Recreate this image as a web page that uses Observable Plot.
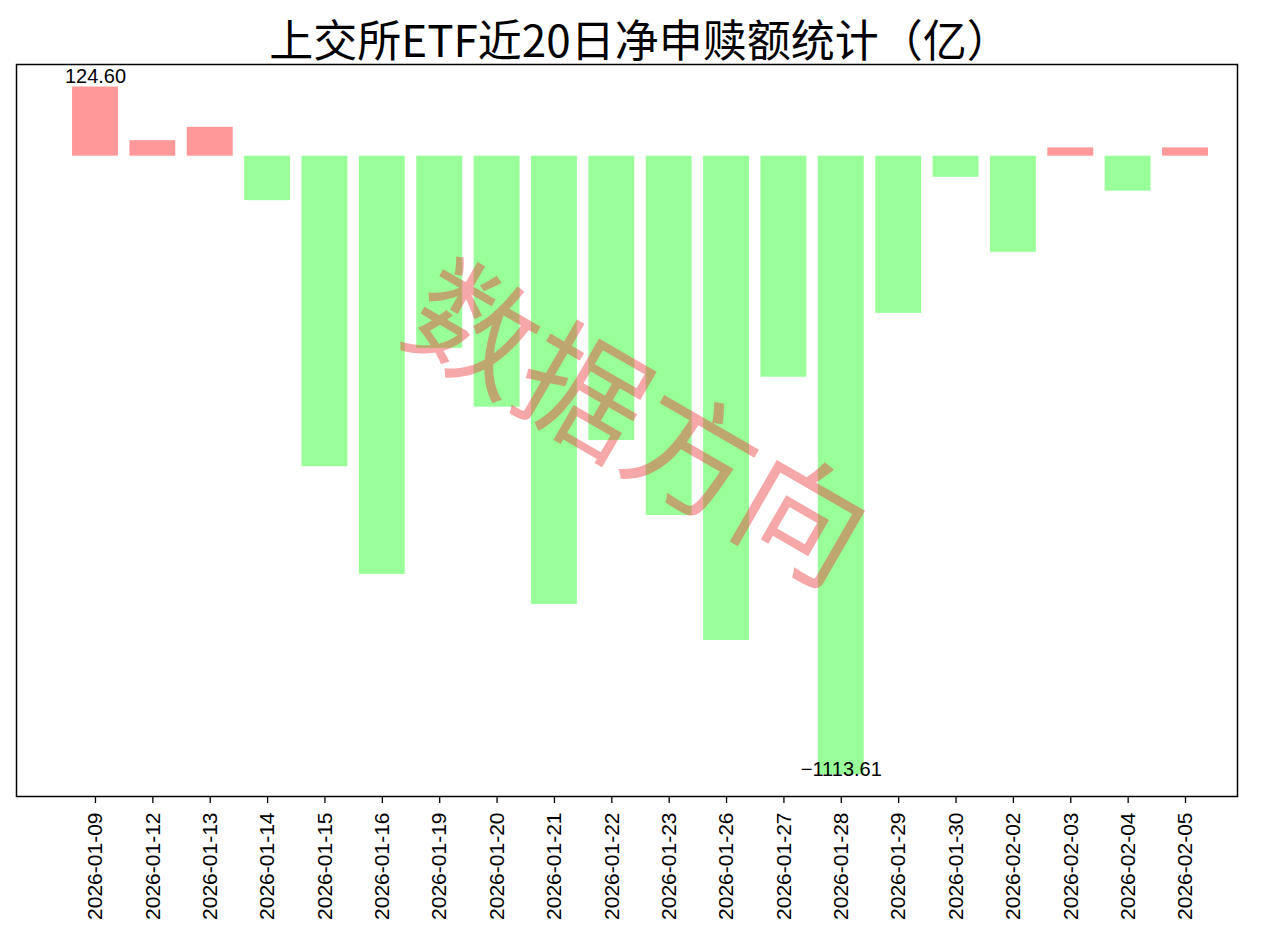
<!DOCTYPE html>
<html>
<head>
<meta charset="utf-8">
<script src="https://cdn.jsdelivr.net/npm/d3@7"></script>
<script src="https://cdn.jsdelivr.net/npm/@observablehq/plot@0.6"></script>
<style>
  html, body { margin: 0; padding: 0; background: #fff; color: #000; }
  #title {
    height: 63px; box-sizing: border-box; padding-top: 12px; padding-right: 0px;
    line-height: 52px; text-align: center; font-size: 44px;
    font-family: "Noto Sans CJK SC", sans-serif; white-space: nowrap; overflow: visible;
  }
  #chart svg { display: block; }
</style>
</head>
<body>
<div id="title">上交所ETF近20日净申赎额统计（亿）</div>
<div id="chart"></div>
<script>
const titleText = "上交所ETF近20日净申赎额统计（亿）";
const dates = [
  "2026-01-09","2026-01-12","2026-01-13","2026-01-14","2026-01-15",
  "2026-01-16","2026-01-19","2026-01-20","2026-01-21","2026-01-22",
  "2026-01-23","2026-01-26","2026-01-27","2026-01-28","2026-01-29",
  "2026-01-30","2026-02-02","2026-02-03","2026-02-04","2026-02-05"
];
const values = [
  124.60, 28, 52, -80, -559,
  -753, -346, -452, -807, -512,
  -647, -872, -398, -1113.61, -283,
  -38, -173, 15, -63, 15
];
const watermark = ["数据方向"];
const posColor = "#ff9999";
const negColor = "#99ff99";

document.getElementById("title").textContent = titleText;

const data = dates.map((d, i) => ({date: d, value: values[i]}));
const maxD = data.reduce((a, b) => (b.value > a.value ? b : a));
const minD = data.reduce((a, b) => (b.value < a.value ? b : a));
const fmt = d3.format(".2f");

const chart = Plot.plot({
  width: 1280,
  height: 876,
  marginTop: 1,
  marginBottom: 143,
  marginLeft: 16,
  marginRight: 43,
  style: {fontFamily: "Liberation Sans, Arial, sans-serif", background: "white", color: "black"},
  x: {type: "band", domain: dates, range: [66.3, 1213.7], paddingInner: 0.2, paddingOuter: 0.1, round: false, label: null},
  y: {domain: [-1152.9, 165.1], axis: null},
  color: {type: "identity"},
  marks: [
    Plot.barY(data, {x: "date", y: "value", fill: d => (d.value >= 0 ? posColor : negColor)}),
    Plot.text([maxD], {x: "date", y: "value", text: d => fmt(d.value), lineAnchor: "bottom", dy: -4, fontSize: 20, fill: "black"}),
    Plot.text([minD], {x: "date", y: "value", text: d => fmt(d.value), lineAnchor: "bottom", dy: 1, fontSize: 20, fill: "black"}),
    Plot.text(watermark, {frameAnchor: "middle", text: d => d, rotate: 30, dx: 8, dy: -2,
      fontSize: 126, fontFamily: "Noto Sans CJK SC", fill: "rgb(235,60,60)", fillOpacity: 0.45}),
    Plot.frame({stroke: "black", strokeWidth: 1.5}),
    Plot.axisX({tickRotate: -90, tickSize: 7, tickPadding: 9, fontSize: 21, label: null, strokeWidth: 1.3})
  ]
});
document.getElementById("chart").appendChild(chart);
</script>
</body>
</html>
